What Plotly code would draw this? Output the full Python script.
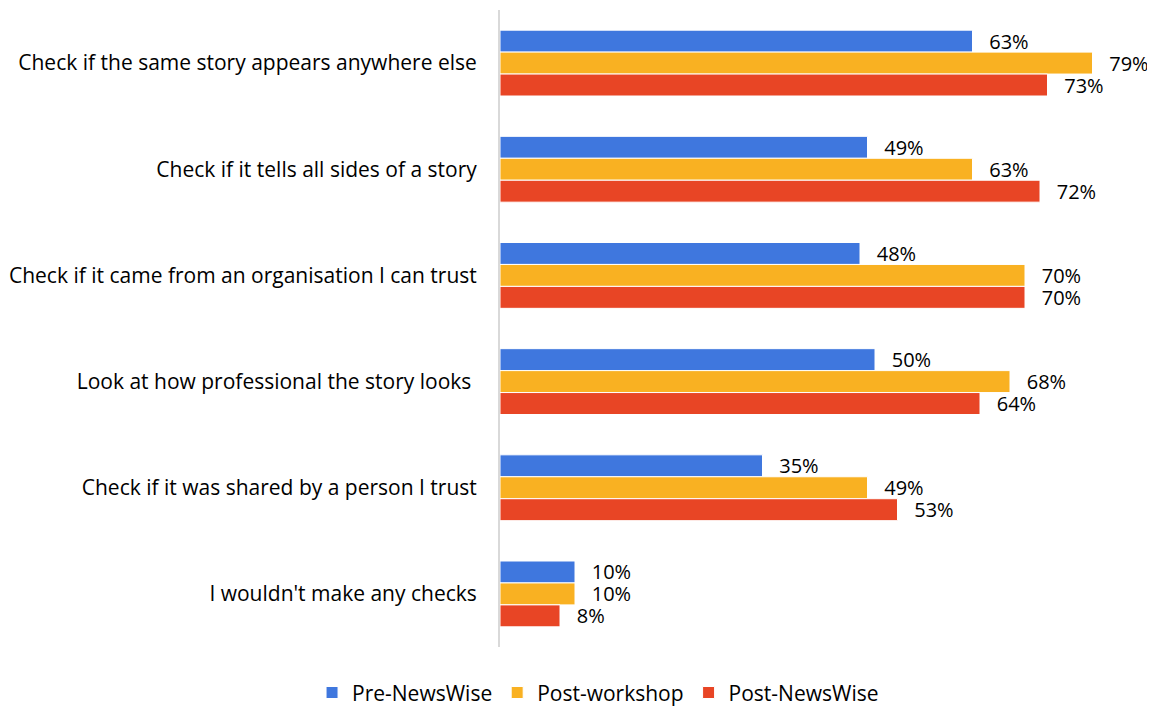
import plotly.graph_objects as go


categorias = [
    "Check if the same story appears anywhere else",
    "Check if it tells all sides of a story",
    "Check if it came from an organisation I can trust",
    "Look at how professional the story looks ",
    "Check if it was shared by a person I trust",
    "I wouldn't make any checks",
]

pre_newswise = [63, 49, 48, 50, 35, 10]
post_workshop = [79, 63, 70, 68, 49, 10]
post_newswise = [73, 72, 70, 64, 53, 8]

series = [
    ("Pre-NewsWise", pre_newswise, "#3F77DE"),
    ("Post-workshop", post_workshop, "#F9B122"),
    ("Post-NewsWise", post_newswise, "#E84525"),
]

fuente = "Open Sans"

fig = go.Figure()

for nombre, valores, color in series:
    fig.add_trace(go.Bar(
        x=valores,
        y=categorias,
        name=nombre,
        orientation="h",
        marker=dict(color=color, line=dict(color="white", width=1)),
        text=[f"\u00a0\u00a0\u2009{v}%" for v in valores],   # espacio entre barra y etiqueta
        textposition="outside",
        constraintext="none",
        textfont=dict(family=fuente, size=20, color="#000000"),
        cliponaxis=False,
    ))

# la pagina tiene 8px de margen en el body, compensamos en el layout
fig.update_layout(
    width=1155,
    height=707,
    barmode="group",
    bargap=0.38,
    bargroupgap=0,
    plot_bgcolor="white",
    paper_bgcolor="white",
    margin=dict(l=492, r=18, t=2, b=68, autoexpand=False),
    font=dict(family=fuente, size=20, color="#000000"),
    legend=dict(
        orientation="h",
        x=0.152, xanchor="center",
        y=-0.072, yanchor="middle",
        font=dict(family=fuente, size=21),
        traceorder="normal",
    ),
)

fig.update_xaxes(range=[0, 86], showgrid=False, showticklabels=False, zeroline=False)
fig.update_yaxes(
    autorange="reversed",
    showgrid=False,
    showline=True,
    linecolor="#D9D9D9",
    linewidth=2,
    ticks="",
    ticklabelstandoff=17,
    tickfont=dict(family=fuente, size=21, color="#000000"),
)

fig.write_html("out.html")
